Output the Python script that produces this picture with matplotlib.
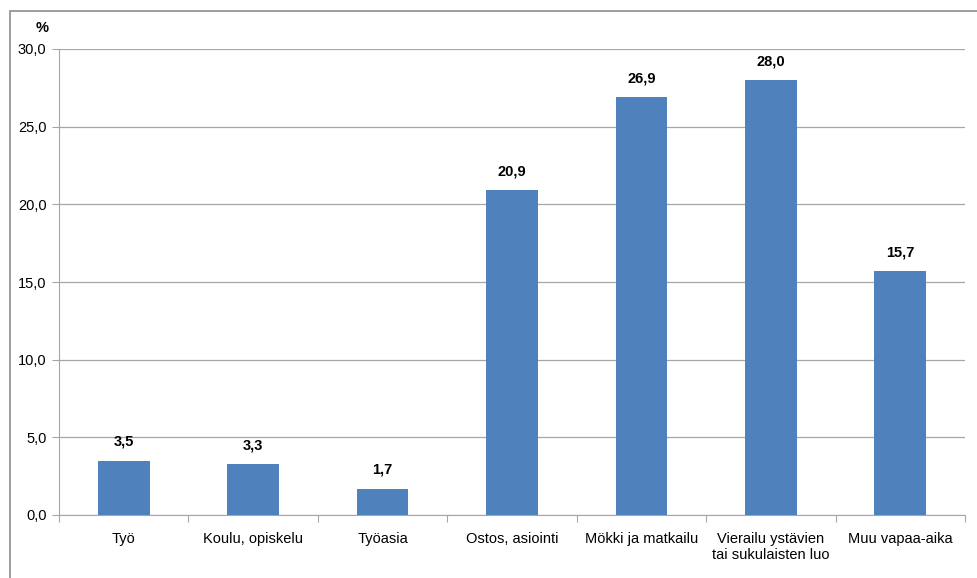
import matplotlib
matplotlib.use('Agg')
import matplotlib.pyplot as plt
from matplotlib.patches import Rectangle

categories = ['Työ', 'Koulu, opiskelu', 'Työasia', 'Ostos, asiointi',
              'Mökki ja matkailu', 'Vierailu ystävien\ntai sukulaisten luo', 'Muu vapaa-aika']
values = [3.5, 3.3, 1.7, 20.9, 26.9, 28.0, 15.7]
yticks = [0, 5, 10, 15, 20, 25, 30]

plt.rcParams['font.family'] = ['Liberation Sans', 'DejaVu Sans']

fig = plt.figure(figsize=(9.78, 5.78), dpi=100)
# outer chart frame (cropped at right/bottom)
fig.patches.append(Rectangle((10 / 978, -0.1), 1.1, 1 - 11 / 578 + 0.1,
                             transform=fig.transFigure, fill=False,
                             edgecolor='#8c8c8c', linewidth=1.2))

ax = fig.add_axes([59 / 978, 1 - 515 / 578, (965 - 59) / 978, (515 - 49) / 578])

x = range(len(categories))
bars = ax.bar(x, values, width=0.4, color='#4F81BD', zorder=3)
for b, v in zip(bars, values):
    ax.text(b.get_x() + b.get_width() / 2, v + 0.75, f'{v:.1f}'.replace('.', ','),
            ha='center', va='bottom', fontsize=10.5, fontweight='bold')

ax.set_xlim(-0.5, len(categories) - 0.5)
ax.set_ylim(0, 30)
ax.set_yticks(yticks)
ax.set_yticklabels([f'{t:.1f}'.replace('.', ',') for t in yticks], fontsize=10.5)
ax.yaxis.grid(True, color='#a6a6a6', linewidth=0.9, zorder=0)
ax.tick_params(axis='y', length=5, color='#a6a6a6', pad=4)

ax.set_xticks([i + 0.5 for i in range(-1, len(categories))], minor=False)
ax.set_xticklabels([])
ax.set_xticks(list(x), minor=True)
ax.set_xticklabels(categories, minor=True, fontsize=10.5)
ax.tick_params(axis='x', which='major', length=5, color='#a6a6a6')
ax.tick_params(axis='x', which='minor', length=0, pad=12)

for s in ['top', 'right']:
    ax.spines[s].set_visible(False)
for s in ['left', 'bottom']:
    ax.spines[s].set_color('#a6a6a6')

ax.text(-0.019, 1.03, '%', transform=ax.transAxes, fontsize=10.5, fontweight='bold',
        ha='center', va='bottom')

fig.savefig('out.png', dpi=100)
